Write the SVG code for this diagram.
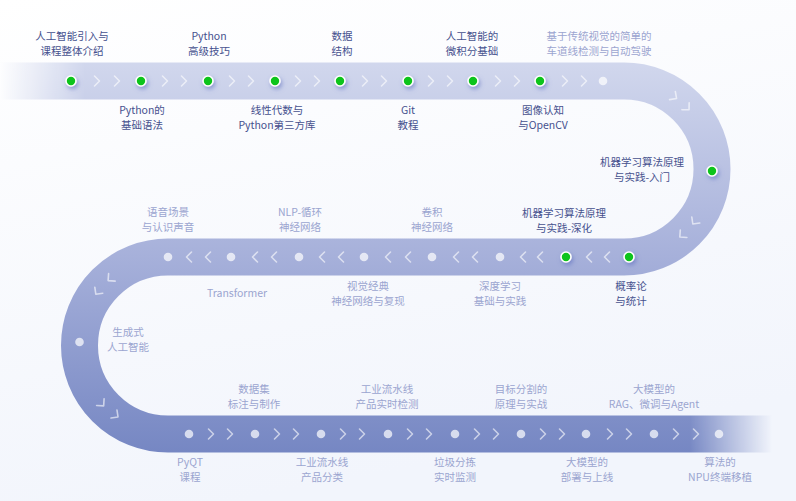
<svg xmlns="http://www.w3.org/2000/svg" xmlns:xlink="http://www.w3.org/1999/xlink" width="796" height="501" viewBox="0 0 796 501">
<defs>
<linearGradient id="bg" x1="0" y1="0" x2="0.3" y2="1">
<stop offset="0" stop-color="#ffffff"/><stop offset="1" stop-color="#f2f5fc"/>
</linearGradient>
<linearGradient id="bandG" gradientUnits="userSpaceOnUse" x1="0" y1="63" x2="0" y2="452">
<stop offset="0" stop-color="#d1d7ed"/><stop offset="0.5" stop-color="#a6b0da"/><stop offset="1" stop-color="#7687c3"/>
</linearGradient>
<linearGradient id="fadeL" gradientUnits="userSpaceOnUse" x1="0" y1="0" x2="85" y2="0">
<stop offset="0" stop-color="#000"/><stop offset="1" stop-color="#fff"/>
</linearGradient>
<linearGradient id="fadeR" gradientUnits="userSpaceOnUse" x1="690" y1="0" x2="772" y2="0">
<stop offset="0" stop-color="#fff"/><stop offset="1" stop-color="#000"/>
</linearGradient>
<mask id="fade" maskUnits="userSpaceOnUse" x="0" y="0" width="796" height="501">
<rect width="796" height="501" fill="#fff"/>
<rect x="0" y="50" width="85" height="62" fill="url(#fadeL)"/>
<rect x="690" y="400" width="106" height="70" fill="url(#fadeR)"/>
</mask>
<filter id="sh" x="-100%" y="-100%" width="300%" height="300%">
<feDropShadow dx="1.5" dy="2.5" stdDeviation="2" flood-color="#5566bb" flood-opacity="0.55"/>
</filter>
<path id="chev" d="M-2.5,-5 L2.5,0 L-2.5,5"/>
</defs>
<style>
.chev{fill:none;stroke:#ffffff;stroke-opacity:0.6;stroke-width:1.6;stroke-linecap:round;stroke-linejoin:round}
.dot{fill:#ffffff;fill-opacity:0.7}
.on{fill:#10c41a;stroke:#ffffff;stroke-width:1.6;filter:url(#sh)}
text{font-family:"Noto Sans CJK SC","Noto Sans",sans-serif;font-size:10.5px;text-anchor:middle}
.d{fill:#46518e}
.l{fill:#9ba5d0}
</style>
<rect width="796" height="501" fill="url(#bg)"/>
<g id="connectors">
<path d="M0,81 H624 A88,88 0 0 1 624,257 H168 A88.5,88.5 0 0 0 168,434 H796" fill="none" stroke="url(#bandG)" stroke-width="37" mask="url(#fade)"/>
<g class="chev">
<use href="#chev" x="97" y="81"/><use href="#chev" x="117" y="81"/>
<use href="#chev" x="165" y="81"/><use href="#chev" x="184" y="81"/>
<use href="#chev" x="232" y="81"/><use href="#chev" x="251" y="81"/>
<use href="#chev" x="298" y="81"/><use href="#chev" x="317" y="81"/>
<use href="#chev" x="365" y="81"/><use href="#chev" x="384" y="81"/>
<use href="#chev" x="431" y="81"/><use href="#chev" x="450" y="81"/>
<use href="#chev" x="498" y="81"/><use href="#chev" x="517" y="81"/>
<use href="#chev" x="565" y="81"/><use href="#chev" x="584" y="81"/>
<use href="#chev" transform="translate(674.5,97) rotate(35)"/>
<use href="#chev" transform="translate(687.3,108) rotate(46)"/>
<use href="#chev" transform="translate(694.3,222) rotate(127)"/>
<use href="#chev" transform="translate(681.7,235.4) rotate(139)"/>
<use href="#chev" transform="translate(607,257) rotate(180)"/><use href="#chev" transform="translate(589,257) rotate(180)"/>
<use href="#chev" transform="translate(540,257) rotate(180)"/><use href="#chev" transform="translate(523,257) rotate(180)"/>
<use href="#chev" transform="translate(475,257) rotate(180)"/><use href="#chev" transform="translate(456,257) rotate(180)"/>
<use href="#chev" transform="translate(408,257) rotate(180)"/><use href="#chev" transform="translate(388,257) rotate(180)"/>
<use href="#chev" transform="translate(341,257) rotate(180)"/><use href="#chev" transform="translate(322,257) rotate(180)"/>
<use href="#chev" transform="translate(274,257) rotate(180)"/><use href="#chev" transform="translate(255,257) rotate(180)"/>
<use href="#chev" transform="translate(208,257) rotate(180)"/><use href="#chev" transform="translate(189,257) rotate(180)"/>
<use href="#chev" transform="translate(110,279) rotate(139)"/>
<use href="#chev" transform="translate(97.3,292.2) rotate(127)"/>
<use href="#chev" transform="translate(102,404) rotate(48.5)"/>
<use href="#chev" transform="translate(116,415.5) rotate(36.5)"/>
<use href="#chev" x="211" y="434"/><use href="#chev" x="230" y="434"/>
<use href="#chev" x="277" y="434"/><use href="#chev" x="296" y="434"/>
<use href="#chev" x="343" y="434"/><use href="#chev" x="362" y="434"/>
<use href="#chev" x="410" y="434"/><use href="#chev" x="429" y="434"/>
<use href="#chev" x="477" y="434"/><use href="#chev" x="496" y="434"/>
<use href="#chev" x="543" y="434"/><use href="#chev" x="562" y="434"/>
<use href="#chev" x="610" y="434"/><use href="#chev" x="629" y="434"/>
<use href="#chev" x="676" y="434"/><use href="#chev" x="696" y="434"/>
</g>
</g>
<g id="n1"><circle class="on" cx="71" cy="81" r="5"/><text class="d" x="72" y="39.5">人工智能引入与</text><text class="d" x="72" y="54.5">课程整体介绍</text></g>
<g id="n2"><circle class="on" cx="141" cy="81" r="5"/><text class="d" x="142" y="113.5">Python的</text><text class="d" x="142" y="128.5">基础语法</text></g>
<g id="n3"><circle class="on" cx="208" cy="81" r="5"/><text class="d" x="209" y="39.5">Python</text><text class="d" x="209" y="54.5">高级技巧</text></g>
<g id="n4"><circle class="on" cx="275" cy="81" r="5"/><text class="d" x="277" y="113.5">线性代数与</text><text class="d" x="277" y="128.5">Python第三方库</text></g>
<g id="n5"><circle class="on" cx="340" cy="81" r="5"/><text class="d" x="342" y="39.5">数据</text><text class="d" x="342" y="54.5">结构</text></g>
<g id="n6"><circle class="on" cx="408" cy="81" r="5"/><text class="d" x="408" y="113.5">Git</text><text class="d" x="408" y="128.5">教程</text></g>
<g id="n7"><circle class="on" cx="473" cy="81" r="5"/><text class="d" x="472" y="39.5">人工智能的</text><text class="d" x="472" y="54.5">微积分基础</text></g>
<g id="n8"><circle class="on" cx="540" cy="81" r="5"/><text class="d" x="543" y="113.5">图像认知</text><text class="d" x="543" y="128.5">与OpenCV</text></g>
<g id="n9"><circle class="dot" cx="603" cy="81" r="4.3"/><text class="l" x="599" y="39.5">基于传统视觉的简单的</text><text class="l" x="599" y="54.5">车道线检测与自动驾驶</text></g>
<g id="n10"><circle class="on" cx="712" cy="171" r="5"/><text class="d" x="642" y="165.5">机器学习算法原理</text><text class="d" x="642" y="180.5">与实践-入门</text></g>
<g id="n11"><circle class="on" cx="629" cy="257" r="5"/><text class="d" x="631" y="289.5">概率论</text><text class="d" x="631" y="304.5">与统计</text></g>
<g id="n12"><circle class="on" cx="566" cy="257" r="5"/><text class="d" x="564" y="216.5">机器学习算法原理</text><text class="d" x="564" y="231.5">与实践-深化</text></g>
<g id="n13"><circle class="dot" cx="500" cy="257" r="4.3"/><text class="l" x="500" y="289.5">深度学习</text><text class="l" x="500" y="304.5">基础与实践</text></g>
<g id="n14"><circle class="dot" cx="432" cy="257" r="4.3"/><text class="l" x="432" y="216">卷积</text><text class="l" x="432" y="231">神经网络</text></g>
<g id="n15"><circle class="dot" cx="364" cy="257" r="4.3"/><text class="l" x="368" y="289.5">视觉经典</text><text class="l" x="368" y="304.5">神经网络与复现</text></g>
<g id="n16"><circle class="dot" cx="299" cy="257" r="4.3"/><text class="l" x="300" y="216">NLP-循环</text><text class="l" x="300" y="231">神经网络</text></g>
<g id="n17"><circle class="dot" cx="231" cy="257" r="4.3"/><text class="l" x="237" y="297">Transformer</text></g>
<g id="n18"><circle class="dot" cx="168" cy="257" r="4.3"/><text class="l" x="168" y="216">语音场景</text><text class="l" x="168" y="231">与认识声音</text></g>
<g id="n19"><circle class="dot" cx="79.5" cy="342" r="4.3"/><text class="l" x="128" y="335.5">生成式</text><text class="l" x="128" y="350.5">人工智能</text></g>
<g id="n20"><circle class="dot" cx="189" cy="434" r="4.3"/><text class="l" x="190" y="465.5">PyQT</text><text class="l" x="190" y="480.5">课程</text></g>
<g id="n21"><circle class="dot" cx="255" cy="434" r="4.3"/><text class="l" x="254" y="392.5">数据集</text><text class="l" x="254" y="407.5">标注与制作</text></g>
<g id="n22"><circle class="dot" cx="321" cy="434" r="4.3"/><text class="l" x="322" y="465.5">工业流水线</text><text class="l" x="322" y="480.5">产品分类</text></g>
<g id="n23"><circle class="dot" cx="388" cy="434" r="4.3"/><text class="l" x="387" y="392.5">工业流水线</text><text class="l" x="387" y="407.5">产品实时检测</text></g>
<g id="n24"><circle class="dot" cx="455" cy="434" r="4.3"/><text class="l" x="455" y="465.5">垃圾分拣</text><text class="l" x="455" y="480.5">实时监测</text></g>
<g id="n25"><circle class="dot" cx="521" cy="434" r="4.3"/><text class="l" x="521" y="392.5">目标分割的</text><text class="l" x="521" y="407.5">原理与实战</text></g>
<g id="n26"><circle class="dot" cx="586" cy="434" r="4.3"/><text class="l" x="587" y="465.5">大模型的</text><text class="l" x="587" y="480.5">部署与上线</text></g>
<g id="n27"><circle class="dot" cx="654" cy="434" r="4.3"/><text class="l" x="654" y="392.5">大模型的</text><text class="l" x="654" y="407.5">RAG、微调与Agent</text></g>
<g id="n28"><circle class="dot" cx="719" cy="434" r="4.3"/><text class="l" x="720" y="465.5">算法的</text><text class="l" x="720" y="480.5">NPU终端移植</text></g>
</svg>
